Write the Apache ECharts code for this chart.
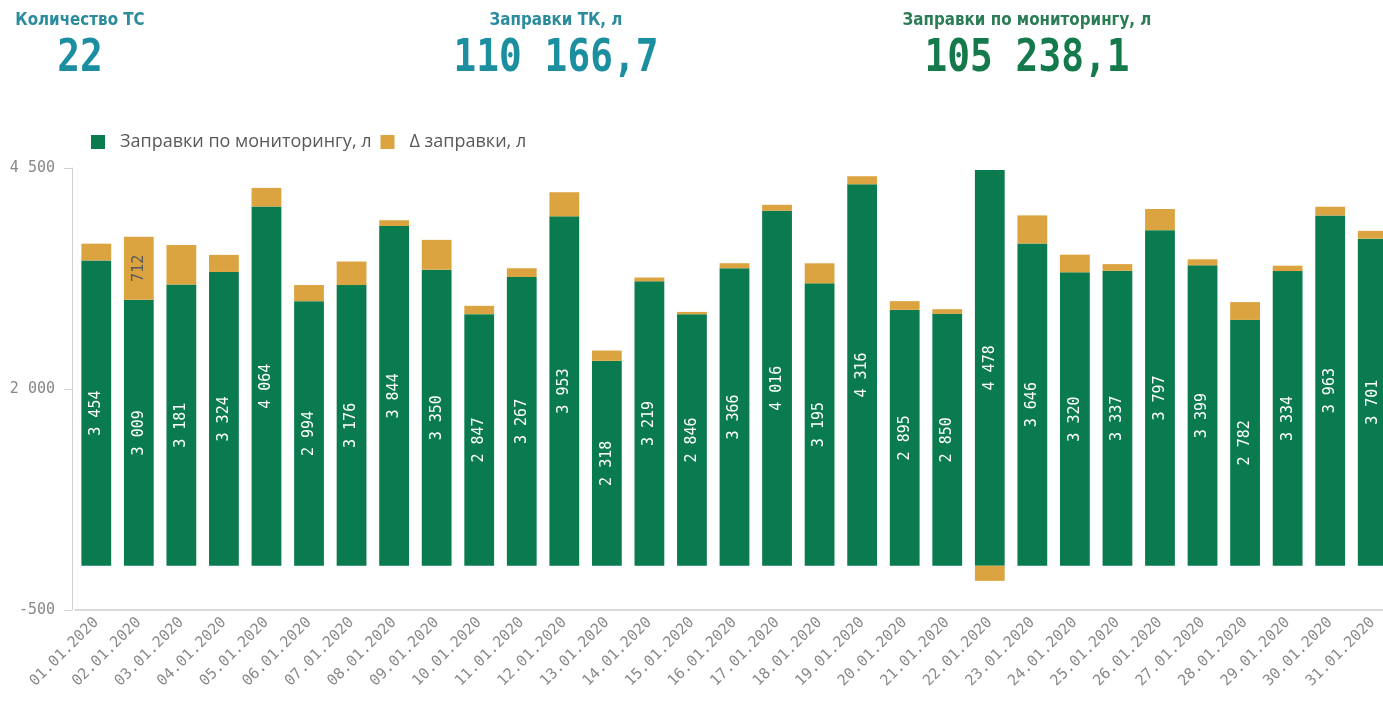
<!DOCTYPE html>
<html>
<head>
<meta charset="utf-8">
<script src="https://cdn.jsdelivr.net/npm/echarts@6/dist/echarts.min.js"></script>
<style>
html,body{margin:0;padding:0;background:#fff;}
#chart{width:1383px;height:701px;}
</style>
</head>
<body>
<div id="chart"></div>
<script>
const categories = ['01.01.2020','02.01.2020','03.01.2020','04.01.2020','05.01.2020','06.01.2020','07.01.2020','08.01.2020','09.01.2020','10.01.2020','11.01.2020','12.01.2020','13.01.2020','14.01.2020','15.01.2020','16.01.2020','17.01.2020','18.01.2020','19.01.2020','20.01.2020','21.01.2020','22.01.2020','23.01.2020','24.01.2020','25.01.2020','26.01.2020','27.01.2020','28.01.2020','29.01.2020','30.01.2020','31.01.2020'];
const monitoring = [3454,3009,3181,3324,4064,2994,3176,3844,3350,2847,3267,3953,2318,3219,2846,3366,4016,3195,4316,2895,2850,4478,3646,3320,3337,3797,3399,2782,3334,3963,3701];
const deltaFuel = [190,712,447,193,211,182,266,65,337,94,99,273,117,42,26,57,68,227,91,99,53,-170,318,200,76,239,68,201,61,99,88];
const yTicks = [-500, 2000, 4500];
const seriesNames = ['Заправки по мониторингу, л', 'Δ заправки, л'];
const kpiTitles = ['Количество ТС', 'Заправки ТК, л', 'Заправки по мониторингу, л'];
const kpiValues = ['22', '110 166,7', '105 238,1'];

const fmt = v => String(v).replace(/\B(?=(\d{3})+(?!\d))/g, ' ');
const MONO = "'DejaVu Sans Mono', 'Liberation Mono', monospace";
const GREEN = '#0a7b4f';
const ORANGE = '#dba440';

const kpiX = [80, 556, 1027];
const kpiTitleColor = ['#2a8c9c', '#2a8c9c', '#2b7d56'];
const kpiValueColor = ['#1b8ea0', '#1b8ea0', '#147a4c'];
const graphics = [];
kpiTitles.forEach((t, i) => {
  graphics.push({
    type: 'text', x: kpiX[i], y: 20, scaleX: 0.84,
    style: { text: t, align: 'center', verticalAlign: 'middle', fill: kpiTitleColor[i],
      font: "bold 18px 'DejaVu Sans', sans-serif" }
  });
  graphics.push({
    type: 'text', x: kpiX[i], y: 59, scaleX: 0.84,
    style: { text: kpiValues[i], align: 'center', verticalAlign: 'middle', fill: kpiValueColor[i],
      font: "bold 45px " + MONO }
  });
});

const chart = echarts.init(document.getElementById('chart'), null, { renderer: 'canvas' });
chart.setOption({
  animation: false,
  graphic: graphics,
  legend: {
    left: 86, top: 128, itemWidth: 14, itemHeight: 14, itemGap: 9, icon: 'rect',
    textStyle: { color: '#595959', fontSize: 18, fontFamily: "'Open Sans', 'Noto Sans', sans-serif", padding: [0, 0, 0, 10] },
    data: seriesNames
  },
  grid: { left: 75, right: -11, top: 168, bottom: 91, outerBoundsMode: 'none', containLabel: false },
  xAxis: {
    type: 'category', data: categories,
    axisLine: { onZero: false, lineStyle: { color: '#d9d9d9', width: 2 } },
    axisTick: { show: false },
    axisLabel: { rotate: 45, interval: 0, margin: 10, color: '#888', fontSize: 15, fontFamily: MONO }
  },
  yAxis: {
    type: 'value', min: -500, max: 4500, offset: 3,
    splitLine: { show: false },
    axisLine: { show: true, lineStyle: { color: '#d0d0d0', width: 1 } },
    axisTick: { show: true, length: 8, lineStyle: { color: '#d0d0d0' }, customValues: yTicks },
    axisLabel: { color: '#888', fontSize: 15, fontFamily: MONO, margin: 17, customValues: yTicks, formatter: v => fmt(v) }
  },
  series: [
    {
      name: seriesNames[0], type: 'bar', stack: 'fuel', data: monitoring, barWidth: '70%',
      itemStyle: { color: GREEN },
      label: { show: true, position: 'inside', rotate: 90, color: '#fff', fontSize: 15, fontFamily: MONO,
        formatter: p => fmt(p.value) }
    },
    {
      name: seriesNames[1], type: 'bar', stack: 'fuel', data: deltaFuel, barWidth: '70%',
      itemStyle: { color: ORANGE },
      label: { show: true, position: 'inside', rotate: 90, color: '#595959', fontSize: 15, fontFamily: MONO,
        formatter: p => (Math.abs(p.value) >= 500 ? fmt(p.value) : '') }
    }
  ]
});
</script>
</body>
</html>
